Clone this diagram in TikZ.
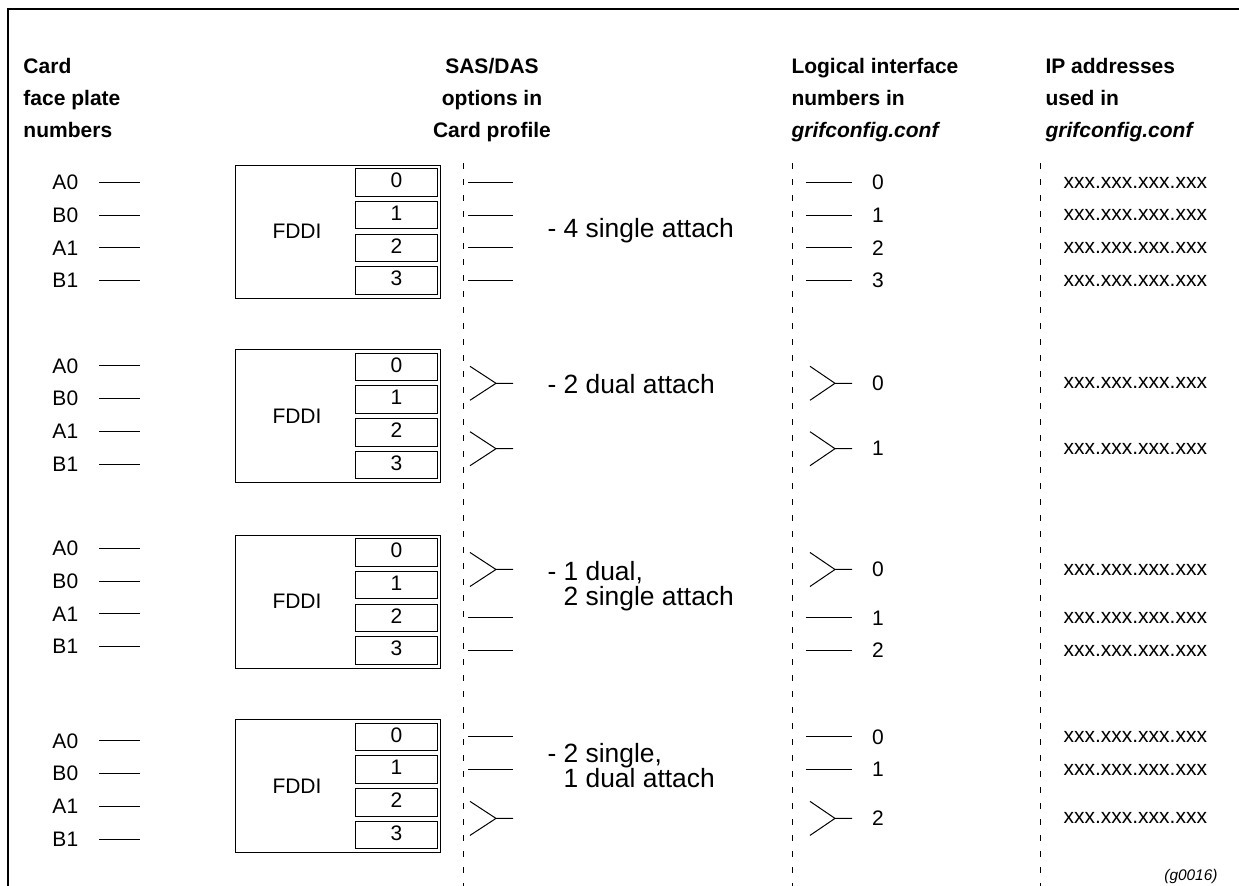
\documentclass[tikz,border=0pt]{standalone}
\usepackage{fontspec}
\setmainfont{Liberation Sans}
\begin{document}
\begin{tikzpicture}[x=0.5pt,y=-0.5pt,line width=0.5pt]
    \tikzstyle{head} = [anchor=north west, inner sep=0, align=left, font=\fontsize{10.5}{16}\selectfont\bfseries]
    \tikzstyle{plain} = [inner sep=0, font=\fontsize{10.5}{12}\selectfont]
    \tikzstyle{option} = [anchor=west, inner sep=0, align=left, font=\fontsize{13.2}{12.5}\selectfont]
    \tikzstyle{card} = [draw, rectangle, minimum width=102.5pt, minimum height=66.5pt, inner sep=0]
    \tikzstyle{port} = [draw, rectangle, minimum width=41pt, minimum height=13.75pt, inner sep=0, text depth=2pt, font=\fontsize{10.5}{12}\selectfont]
    \tikzstyle{divider} = [dash pattern=on 3pt off 5pt]
    \useasboundingbox (0,0) rectangle (1239,886);
    \draw[line width=0.8pt] (1239,9) -- (8,9) -- (8,886);
    \node[head] (hcard) at (23,58) {Card\\face plate\\numbers};
    \node[head, anchor=north, align=center] (hsas) at (492,58) {SAS/DAS\\options in\\Card profile};
    \node[head] (hlog) at (791,58) {Logical interface\\numbers in\\\textit{grifconfig.conf}};
    \node[head] (hip) at (1045,58) {IP addresses\\used in\\\textit{grifconfig.conf}};
    \draw[divider] (463,163) -- (463,886);
    \draw[divider] (792,163) -- (792,886);
    \draw[divider] (1040,163) -- (1040,886);
    \foreach \g/\c/\d in {1/182.5/0, 2/367/-1, 3/552.5/-4, 4/737/4} {
        \node[card] (card\g) at (337.75,\c+49.5) {};
        \node[plain] (fddi\g) at (297,\c+49) {FDDI};
        \foreach \i/\pl in {0/A0, 1/B0, 2/A1, 3/B1} {
            \node[port] (port\g\i) at (396.5,\c+\i*32.7) {\i};
            \node[plain, anchor=west] (plate\g\i) at (52,\c+\d+\i*32.7) {\pl};
            \draw (99,\c+\d+\i*32.7) -- (140,\c+\d+\i*32.7);
        }
    }
    \node[option] (opt1) at (547,231) {- 4 single attach};
    \node[option] (opt2) at (547,384) {- 2 dual attach};
    \node[option] (opt3) at (547,586) {- 1 dual,\\\hphantom{-\ }2 single attach};
    \node[option] (opt4) at (547,766) {- 2 single,\\\hphantom{-\ }1 dual attach};
    \foreach \y/\n [count=\k] in {182.5/0, 215.2/1, 247.9/2, 280.6/3, 618/1, 650.6/2, 737/0, 769.7/1} {
        \draw (468,\y) -- (513,\y);
        \draw (806,\y) -- (852,\y);
        \node[plain] (sif\k) at (878,\y) {\n};
        \node[plain, anchor=west] (sip\k) at (1063,\y) {xxx.xxx.xxx.xxx};
    }
    \foreach \y/\n [count=\k] in {383.3/0, 448.7/1, 569.5/0, 818.4/2} {
        \draw (470,\y-17) -- (496,\y) -- (470,\y+17) (496,\y) -- (513,\y);
        \draw (810,\y-17) -- (835,\y) -- (810,\y+17) (835,\y) -- (852,\y);
        \node[plain] (dif\k) at (878,\y) {\n};
        \node[plain, anchor=west] (dip\k) at (1063,\y) {xxx.xxx.xxx.xxx};
    }
    \node[inner sep=0, anchor=east, font=\fontsize{7.7}{9}\selectfont\itshape] (fig) at (1218,877) {(g0016)};
\end{tikzpicture}
\end{document}
